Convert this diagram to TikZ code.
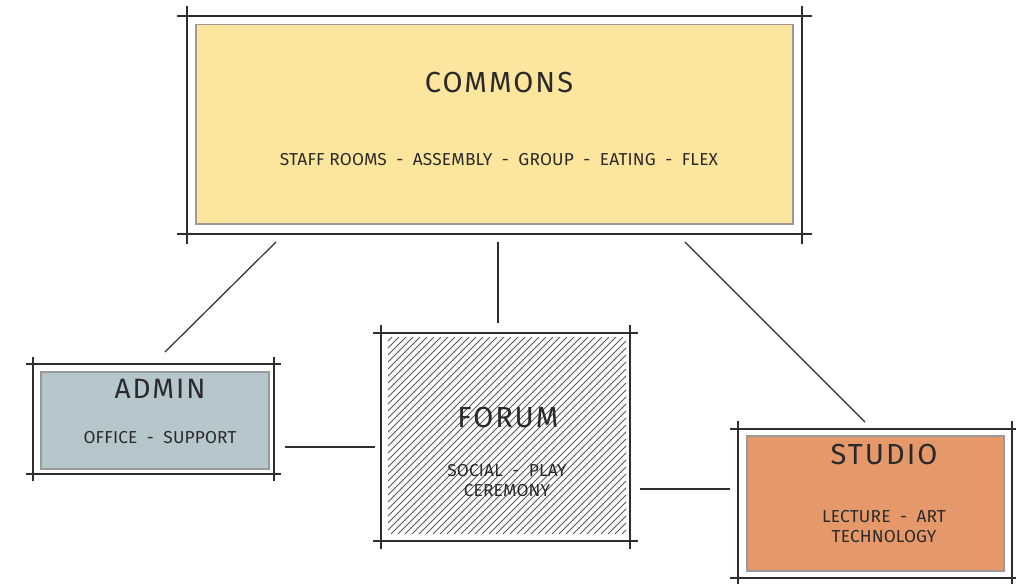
\documentclass[tikz,border=0pt]{standalone}
\usepackage{fontspec}
\setmainfont{Fira Sans}
\newfontfamily\titlefont[LetterSpace=7]{Fira Sans}
\newfontfamily\subfont[LetterSpace=1]{Fira Sans}
\usetikzlibrary{calc}
\definecolor{inkline}{HTML}{2E2E2E}
\definecolor{rimgray}{HTML}{9A9A9A}
\definecolor{commonsfill}{HTML}{FCE59D}
\definecolor{adminfill}{HTML}{B5C7CC}
\definecolor{studiofill}{HTML}{E5996B}
\definecolor{hatchgray}{HTML}{5A5A5A}
\definecolor{txt}{HTML}{2A2A2A}
\tikzset{
  room/.style={draw=rimgray, line width=1.5pt, inner sep=0pt, anchor=north west},
  frameline/.style={draw=inkline, line width=1.2pt},
  link/.style={draw=inkline, line width=1.2pt},
  title/.style={text=txt, font=\titlefont, inner sep=0pt},
  sub/.style={text=txt, font=\subfont, inner sep=0pt, align=center}
}
% outer sketch frame: lines that overrun the corners
\newcommand{\sketchframe}[5]{%
  \draw[frameline] (#1-#5,#2) -- (#3+#5,#2);
  \draw[frameline] (#1-#5,#4) -- (#3+#5,#4);
  \draw[frameline] (#1,#2-#5) -- (#1,#4+#5);
  \draw[frameline] (#3,#2-#5) -- (#3,#4+#5);
}
\begin{document}
\begin{tikzpicture}[x=1pt,y=-1pt]
\useasboundingbox (0,0) rectangle (1016,583);
\fill[white] (0,0) rectangle (1016,583);

% COMMONS
\node[room, fill=commonsfill, minimum width=597pt, minimum height=199pt] (commons) at (195,24) {};
\sketchframe{187}{16}{802}{234}{10}
\node[title, font=\titlefont\fontsize{29}{31}\selectfont] (commonsT) at (499,83) {COMMONS};
\node[sub, font=\subfont\fontsize{17.3}{18}\selectfont] (commonsS) at (499,160) {STAFF ROOMS\ \ -\ \ ASSEMBLY\ \ -\ \ GROUP\ \ -\ \ EATING\ \ -\ \ FLEX};

% ADMIN
\node[room, fill=adminfill, minimum width=228pt, minimum height=97pt] (admin) at (40,371) {};
\sketchframe{33}{364}{274}{474}{7}
\node[title, font=\titlefont\fontsize{28}{30}\selectfont] (adminT) at (160,389) {ADMIN};
\node[sub, font=\subfont\fontsize{17.3}{18}\selectfont] (adminS) at (160,438) {OFFICE\ \ -\ \ SUPPORT};

% FORUM (hatched)
\coordinate (forumNW) at (388,337);
\coordinate (forumSE) at (626,534);
\begin{scope}
  \clip (forumNW) rectangle (forumSE);
  \foreach \k in {0,7,...,460}
    \draw[hatchgray, line width=0.8pt] (388+\k-200,534) -- (388+\k,334);
\end{scope}
\node[inner sep=0pt, minimum width=238pt, minimum height=197pt, anchor=north west] (forum) at (forumNW) {};
\sketchframe{381}{333}{630}{541}{8}
\node[title, font=\titlefont\fontsize{29}{31}\selectfont] (forumT) at (508,418) {FORUM};
\node[sub, font=\subfont\fontsize{17.3}{20}\selectfont] (forumS) at (507,481) {SOCIAL\ \ -\ \ PLAY\\CEREMONY};

% STUDIO
\node[room, fill=studiofill, minimum width=257pt, minimum height=135pt] (studio) at (746,435) {};
\sketchframe{738}{429}{1012}{578}{8}
\node[title, font=\titlefont\fontsize{29}{31}\selectfont] (studioT) at (884,455) {STUDIO};
\node[sub, font=\subfont\fontsize{17.3}{20}\selectfont] (studioS) at (884,527) {LECTURE\ \ -\ \ ART\\TECHNOLOGY};

% connectors with free ends
\coordinate (cA) at (276,242); \coordinate (aC) at (165,352);
\coordinate (cF) at (498,242); \coordinate (fC) at (498,323);
\coordinate (cS) at (685,242); \coordinate (sC) at (865,422);
\coordinate (aF) at (285,447); \coordinate (fA) at (375,447);
\coordinate (fS) at (640,489); \coordinate (sF) at (730,489);
\draw[link] (cA) -- (aC);
\draw[link] (cF) -- (fC);
\draw[link] (cS) -- (sC);
\draw[link] (aF) -- (fA);
\draw[link] (fS) -- (sF);
\end{tikzpicture}
\end{document}
